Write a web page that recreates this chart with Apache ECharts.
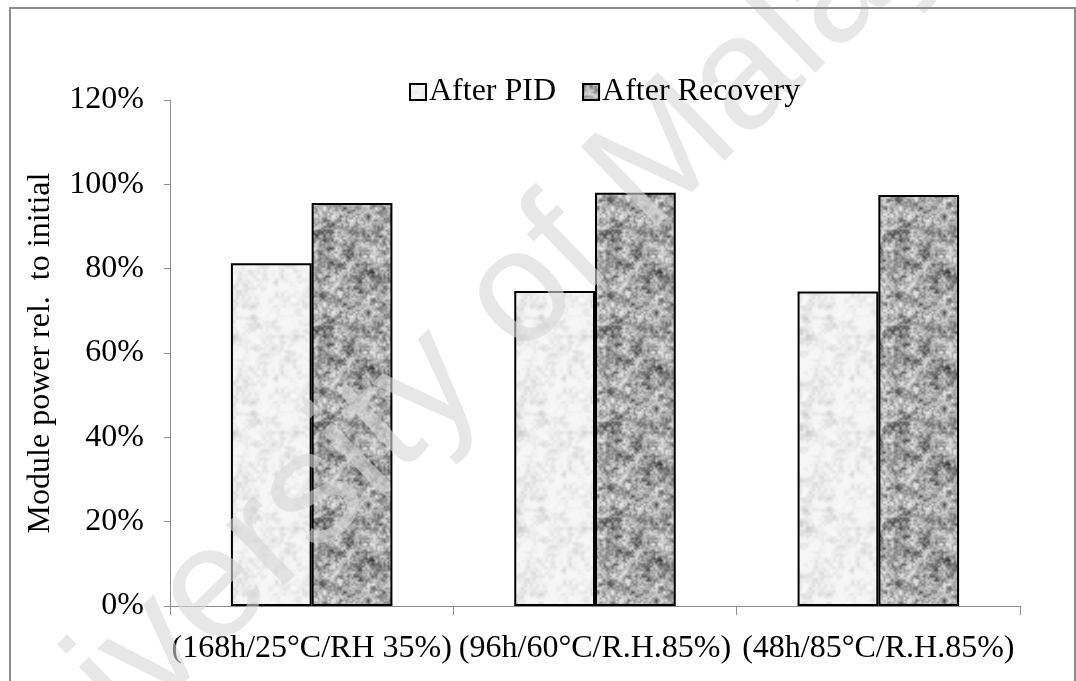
<!DOCTYPE html>
<html>
<head>
<meta charset="utf-8">
<script src="https://cdn.jsdelivr.net/npm/echarts@6/dist/echarts.min.js"></script>
<style>
html,body{margin:0;padding:0;background:#fff;}
#chart{width:1076px;height:681px;}
</style>
</head>
<body>
<div id="chart"></div>
<script>
// ---- data ----
const categories = ['(168h/25°C/RH 35%)', '(96h/60°C/R.H.85%)', '(48h/85°C/R.H.85%)'];
const seriesNames = ['After PID', 'After Recovery'];
const afterPID = [81.3, 74.7, 74.6];
const afterRecovery = [95.6, 98.0, 97.5];
const yTicks = [0, 20, 40, 60, 80, 100, 120];
const yAxisTitle = 'Module power rel.  to initial';
const watermark = 'University of Malaya';

// ---- deterministic granite texture ----
function mulberry32(a){return function(){a|=0;a=a+0x6D2B79F5|0;let t=Math.imul(a^a>>>15,1|a);t=t+Math.imul(t^t>>>7,61|t)^t;return((t^t>>>14)>>>0)/4294967296;}}
function makeTexture(seed, octaves, mapFn){
  const S = 96;
  const rnd = mulberry32(seed);
  const grids = octaves.map(o=>{const n=S/o.cell;const g=[];for(let i=0;i<n*n;i++)g.push(rnd());return {n,g,cell:o.cell,w:o.w};});
  const c = document.createElement('canvas'); c.width=S; c.height=S;
  const ctx = c.getContext('2d'); const img = ctx.createImageData(S,S);
  for(let y=0;y<S;y++)for(let x=0;x<S;x++){
    let v=0;
    for(const o of grids){
      const fx=x/o.cell, fy=y/o.cell; const x0=Math.floor(fx), y0=Math.floor(fy);
      const tx=fx-x0, ty=fy-y0; const sx=tx*tx*(3-2*tx), sy=ty*ty*(3-2*ty);
      const g=(i,j)=>o.g[((j%o.n+o.n)%o.n)*o.n+((i%o.n+o.n)%o.n)];
      const a=g(x0,y0)*(1-sx)+g(x0+1,y0)*sx, b=g(x0,y0+1)*(1-sx)+g(x0+1,y0+1)*sx;
      v+=o.w*(a*(1-sy)+b*sy);
    }
    const p=Math.max(0,Math.min(255,Math.round(mapFn(v))));
    const k=(y*S+x)*4; img.data[k]=p;img.data[k+1]=p;img.data[k+2]=p;img.data[k+3]=255;
  }
  ctx.putImageData(img,0,0);
  return c;
}
const lightTex = makeTexture(7, [{cell:12,w:0.35},{cell:6,w:0.35},{cell:3,w:0.3}],
  v => 246 - 50*Math.pow(Math.max(0,v-0.35)/0.65,1.4));
const darkTex = makeTexture(13, [{cell:8,w:0.3},{cell:4,w:0.4},{cell:2,w:0.3}],
  v => 228 - 190*Math.pow(Math.max(0,(v-0.15)/0.85),1.2));

const font = 'Liberation Serif';
const chart = echarts.init(document.getElementById('chart'));
chart.setOption({
  backgroundColor: '#fff',
  animation: false,
  legend: {
    left: 404, top: 71, z: 10,
    itemWidth: 16, itemHeight: 16, itemGap: 26,
    icon: 'rect',
    textStyle: {fontFamily: font, fontSize: 32, color: '#000', padding: [0,0,0,-2]},
    data: seriesNames
  },
  grid: {left: 170, right: 56, top: 100, bottom: 75},
  xAxis: {
    type: 'category', data: categories,
    axisLine: {lineStyle: {color: '#8c8c8c', width: 1}},
    axisTick: {show: true, length: 9, lineStyle: {color: '#8c8c8c'}},
    axisLabel: {fontFamily: font, fontSize: 32, color: '#000', margin: 27, interval: 0}
  },
  yAxis: {
    type: 'value', min: 0, max: 120, interval: 20,
    name: yAxisTitle, nameLocation: 'middle', nameGap: 113, nameRotate: 90,
    nameTextStyle: {fontFamily: font, fontSize: 32, color: '#000'},
    axisLine: {show: true, lineStyle: {color: '#8c8c8c', width: 1}},
    axisTick: {show: true, length: 6, lineStyle: {color: '#8c8c8c'}},
    splitLine: {show: false},
    axisLabel: {fontFamily: font, fontSize: 32, color: '#000', margin: 26, formatter: '{value}%'}
  },
  series: [
    {name: seriesNames[0], type: 'bar', data: afterPID, barGap: '0%', barCategoryGap: '43%',
     itemStyle: {color: {image: lightTex, repeat: 'repeat'}, borderColor: '#000', borderWidth: 2}},
    {name: seriesNames[1], type: 'bar', data: afterRecovery,
     itemStyle: {color: {image: darkTex, repeat: 'repeat'}, borderColor: '#000', borderWidth: 2}}
  ],
  graphic: [
    {type: 'rect', silent: true, z: 200,
     shape: {x: 10, y: 8, width: 1065, height: 700},
     style: {fill: 'none', stroke: '#8c8c8c', lineWidth: 2}},
    {type: 'text', silent: true, z: 3, x: 470, y: 345, rotation: 44*Math.PI/180,
     style: {text: watermark, font: '160px "Liberation Sans"', fill: 'rgba(215,215,215,0.6)', align: 'center', verticalAlign: 'middle'}}
  ]
});
</script>
</body>
</html>
